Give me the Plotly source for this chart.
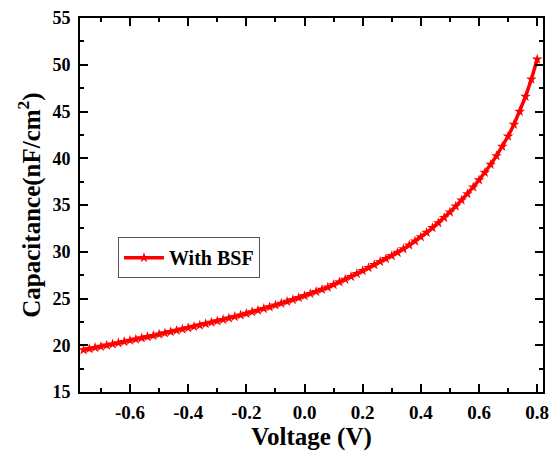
import plotly.graph_objects as go

voltage = [round(-0.76 + 0.02 * i, 2) for i in range(79)]
capacitance = [
    19.50, 19.62, 19.74, 19.86, 19.99, 20.12, 20.25, 20.38, 20.51, 20.64,
    20.77, 20.90, 21.03, 21.17, 21.31, 21.44, 21.58, 21.72, 21.86, 22.00,
    22.14, 22.29, 22.44, 22.59, 22.74, 22.90, 23.06, 23.22, 23.39, 23.56,
    23.73, 23.91, 24.09, 24.28, 24.47, 24.67, 24.87, 25.08, 25.29, 25.51,
    25.73, 25.96, 26.20, 26.48, 26.76, 27.04, 27.34, 27.65, 27.96, 28.28,
    28.61, 28.94, 29.25, 29.57, 29.92, 30.30, 30.70, 31.13, 31.58, 32.06,
    32.56, 33.09, 33.65, 34.24, 34.86, 35.51, 36.19, 36.91, 37.67, 38.47,
    39.33, 40.25, 41.25, 42.35, 43.60, 45.00, 46.60, 48.45, 50.58,
]
series_name = "With BSF"
x_ticks = [-0.6, -0.4, -0.2, 0.0, 0.2, 0.4, 0.6, 0.8]
x_tick_labels = ["-0.6", "-0.4", "-0.2", "0.0", "0.2", "0.4", "0.6", "0.8"]
y_ticks = [15, 20, 25, 30, 35, 40, 45, 50, 55]

FONT = "Liberation Serif, Times New Roman, serif"

fig = go.Figure()
fig.add_trace(go.Scatter(
    x=voltage, y=capacitance, mode="lines+markers", name=series_name,
    line=dict(color="#ff0000", width=3.5),
    marker=dict(symbol="star", size=8, color="#ff0000"),
))

axis_common = dict(
    showline=True, linecolor="black", linewidth=2, mirror="ticks",
    ticks="inside", ticklen=8, tickwidth=2, tickcolor="black",
    showgrid=False, zeroline=False,
)

fig.update_xaxes(
    range=[-0.772, 0.82], tickvals=x_ticks, ticktext=x_tick_labels,
    tickfont=dict(family=FONT, size=19, color="black", weight="bold"),
    ticklabelstandoff=2,
    minor=dict(ticks="inside", dtick=0.1, tick0=0, ticklen=4, tickwidth=2, tickcolor="black"),
    title=dict(text="Voltage (V)", font=dict(family=FONT, size=25, color="black", weight="bold"), standoff=8),
    **axis_common,
)
fig.update_yaxes(
    range=[15, 55], tickvals=y_ticks,
    tickfont=dict(family=FONT, size=18, color="black", weight="bold"),
    ticklabelstandoff=4,
    minor=dict(ticks="inside", dtick=2.5, tick0=15, ticklen=4, tickwidth=2, tickcolor="black"),
    title=dict(text="Capacitance(nF/cm<sup>2</sup>)", font=dict(family=FONT, size=25, color="black", weight="bold"), standoff=5),
    **axis_common,
)

fig.update_layout(
    width=551, height=451,
    margin=dict(l=80, r=8, t=18, b=59, autoexpand=False),
    paper_bgcolor="white", plot_bgcolor="white",
    showlegend=True,
    legend=dict(
        x=0.082, y=0.414, xanchor="left", yanchor="top",
        bordercolor="#555555", borderwidth=1, bgcolor="white",
        font=dict(family=FONT, size=20, color="black", weight="bold"),
        itemwidth=40,
    ),
)

fig.write_html("out.html")
